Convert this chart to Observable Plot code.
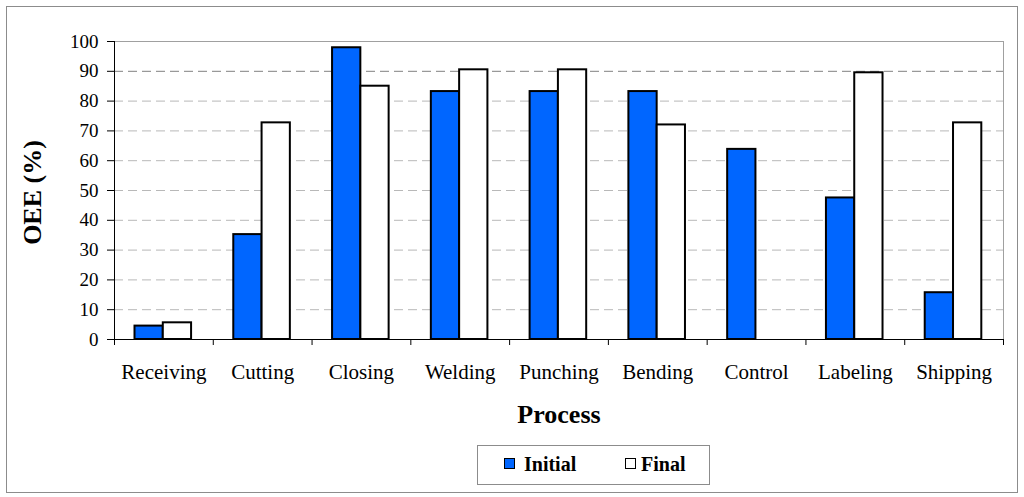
<!DOCTYPE html>
<html>
<head>
<meta charset="utf-8">
<script src="https://cdn.jsdelivr.net/npm/d3@7"></script>
<script src="https://cdn.jsdelivr.net/npm/@observablehq/plot@0.6"></script>
<style>
  body { margin: 0; background: #fff; }
  #wrap { position: relative; width: 1024px; height: 497px; overflow: hidden;
          font-family: "Liberation Serif", "Times New Roman", serif; }
  #border { position: absolute; left: 6px; top: 6px; width: 1010px; height: 485px;
            border: 1px solid #8c8c8c; }
  #chart { position: absolute; left: 0; top: 0; }
  #legend { position: absolute; left: 477px; top: 445px; width: 233px; height: 40px;
            box-sizing: border-box; border: 1px solid #8c8c8c; background: #fff; }
  .sw { position: absolute; top: 12px; width: 11px; height: 11px; box-sizing: border-box;
        border: 1.5px solid #000; }
  .lt { position: absolute; top: 8px; font-size: 20px; line-height: 21px; font-weight: bold; color: #000; }
</style>
</head>
<body>
<div id="wrap">
  <div id="border"></div>
  <div id="chart"></div>
  <div id="legend"></div>
</div>
<script>
const categories = ["Receiving", "Cutting", "Closing", "Welding", "Punching", "Bending", "Control", "Labeling", "Shipping"];
const initialValues = [4.5, 35.2, 97.9, 83.2, 83.2, 83.2, 63.8, 47.5, 15.7];
const finalValues = [5.6, 72.7, 85.0, 90.5, 90.5, 72.0, null, 89.5, 72.7];
const seriesNames = ["Initial", "Final"];
const yTicks = [0, 10, 20, 30, 40, 50, 60, 70, 80, 90, 100];
const gridValues = [10, 20, 30, 40, 50, 60, 70, 80, 90];

const colors = { Initial: "#0066ff", Final: "#ffffff" };
const data = categories.map((c, i) => ({ process: c, Initial: initialValues[i], Final: finalValues[i] }));

const W = 1024, H = 440, ML = 114, MR = 21, MT = 41, MB = 101;
const bw = (W - ML - MR) / categories.length;
const font = '"Liberation Serif", "Times New Roman", serif';

const chart = Plot.plot({
  width: W, height: H,
  marginLeft: ML, marginRight: MR, marginTop: MT, marginBottom: MB,
  style: { fontFamily: font, fontSize: "19px", color: "black", background: "transparent", overflow: "visible" },
  x: { type: "band", domain: categories, padding: 0, round: false, label: null },
  y: { domain: [0, 100], label: null },
  marks: [
    Plot.frame({ stroke: "#a0a0a0" }),
    Plot.ruleY(gridValues.filter(d => d !== 90), { y: d => d, stroke: "#b8b8b8", strokeDasharray: "9,5" }),
    Plot.ruleY(gridValues.filter(d => d === 90), { y: d => d, stroke: "#808080", strokeDasharray: "9,5" }),
    Plot.barY(data, { x: "process", y: "Initial", fill: colors.Initial, stroke: "black", strokeWidth: 2,
                      insetLeft: 20.5, insetRight: 50 }),
    Plot.barY(data.filter(d => d.Final != null), { x: "process", y: "Final", fill: colors.Final, stroke: "black", strokeWidth: 2,
                      insetLeft: 48.8, insetRight: 21.7 }),
    Plot.ruleY([0], { stroke: "black" }),
    Plot.ruleX([categories[0]], { x: d => d, dx: -bw / 2, stroke: "black" }),
    Plot.axisY(yTicks, { tickSize: 7, tickPadding: 9, fontSize: 19, label: null, stroke: "black" }),
    Plot.axisX({ tickSize: 0, tickPadding: 25, fontSize: 21, label: null }),
    Plot.axisX(categories, { tickSize: 6, dx: -bw / 2, tickFormat: () => "", label: null, stroke: "black" }),
    Plot.axisX([categories[categories.length - 1]], { tickSize: 6, dx: bw / 2, tickFormat: () => "", label: null, stroke: "black" }),
    Plot.text(["OEE (%)"], { frameAnchor: "left", textAnchor: "middle", dx: -82, dy: 2, rotate: -90, fontSize: 26, fontWeight: "bold", fill: "black" }),
    Plot.text(["Process"], { frameAnchor: "bottom", dy: 83, fontSize: 26, fontWeight: "bold", fill: "black" })
  ]
});
document.getElementById("chart").appendChild(chart);

// legend
const legend = document.getElementById("legend");
const swX = [26, 147], txtX = [46, 163];
seriesNames.forEach((name, i) => {
  const sw = document.createElement("div");
  sw.className = "sw";
  sw.style.left = swX[i] + "px";
  sw.style.background = colors[name];
  legend.appendChild(sw);
  const t = document.createElement("div");
  t.className = "lt";
  t.style.left = txtX[i] + "px";
  t.textContent = name;
  legend.appendChild(t);
});
</script>
</body>
</html>
